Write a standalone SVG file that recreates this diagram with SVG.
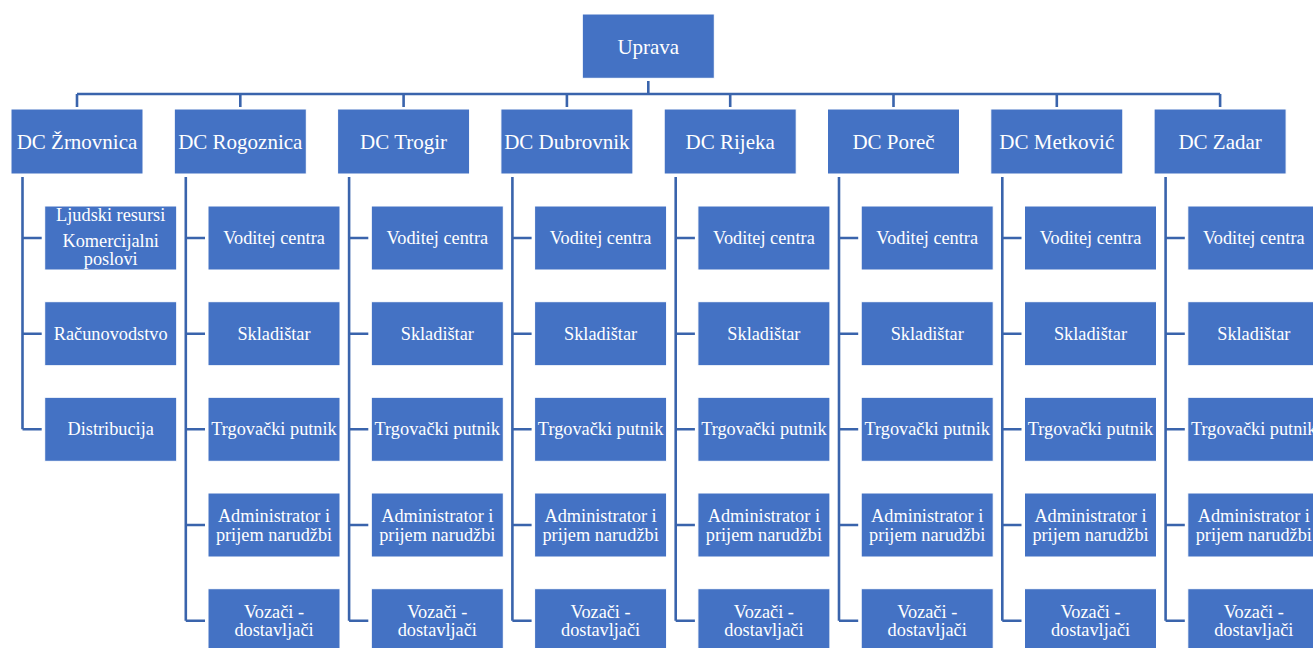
<svg xmlns="http://www.w3.org/2000/svg" width="1313" height="648" viewBox="0 0 1313 648" font-family="'Liberation Serif', 'DejaVu Serif', serif">
<defs>
<style>
.box{fill:#4472C4;stroke:#ffffff;stroke-width:1}
.t{font-family:'Liberation Serif','DejaVu Serif',serif;fill:#ffffff;text-anchor:middle}
.big{font-size:21px}
.sm{font-size:18.3px}
.ln{fill:none;stroke:#3A64AC;stroke-width:2.6}
</style>
</defs>
<rect width="1313" height="648" fill="#ffffff"/>
<g id="connectors">
<path class="ln" d="M648.3,81 V94 M77,94 H1220.1"/>
<path class="ln" d="M77,94 V107 M240.3,94 V107 M403.6,94 V107 M566.9,94 V107 M730.2,94 V107 M893.5,94 V107 M1056.8,94 V107 M1220.1,94 V107"/>
<path class="ln" d="M22.5,177 V429.3 M22.5,238 H41.7 M22.5,333.7 H41.7 M22.5,429.3 H41.7"/>
<path class="ln" d="M185.8,177 V620.7 M185.8,238 H205 M185.8,333.7 H205 M185.8,429.3 H205 M185.8,525 H205 M185.8,620.7 H205"/>
<path class="ln" d="M349.1,177 V620.7 M349.1,238 H368.3 M349.1,333.7 H368.3 M349.1,429.3 H368.3 M349.1,525 H368.3 M349.1,620.7 H368.3"/>
<path class="ln" d="M512.4,177 V620.7 M512.4,238 H531.6 M512.4,333.7 H531.6 M512.4,429.3 H531.6 M512.4,525 H531.6 M512.4,620.7 H531.6"/>
<path class="ln" d="M675.7,177 V620.7 M675.7,238 H694.9 M675.7,333.7 H694.9 M675.7,429.3 H694.9 M675.7,525 H694.9 M675.7,620.7 H694.9"/>
<path class="ln" d="M839,177 V620.7 M839,238 H858.2 M839,333.7 H858.2 M839,429.3 H858.2 M839,525 H858.2 M839,620.7 H858.2"/>
<path class="ln" d="M1002.3,177 V620.7 M1002.3,238 H1021.5 M1002.3,333.7 H1021.5 M1002.3,429.3 H1021.5 M1002.3,525 H1021.5 M1002.3,620.7 H1021.5"/>
<path class="ln" d="M1165.6,177 V620.7 M1165.6,238 H1184.8 M1165.6,333.7 H1184.8 M1165.6,429.3 H1184.8 M1165.6,525 H1184.8 M1165.6,620.7 H1184.8"/>
</g>
<g id="uprava"><rect class="box" x="582.3" y="14" width="132" height="64.3"/><text class="t big" x="648.3" y="53.5">Uprava</text></g>

<g id="dc-zrnovnica"><rect class="box" x="11" y="109" width="132" height="65"/><text class="t big" x="77" y="148.7">DC Žrnovnica</text></g>
<g id="dc-rogoznica"><rect class="box" x="174.3" y="109" width="132" height="65"/><text class="t big" x="240.3" y="148.7">DC Rogoznica</text></g>
<g id="dc-trogir"><rect class="box" x="337.6" y="109" width="132" height="65"/><text class="t big" x="403.6" y="148.7">DC Trogir</text></g>
<g id="dc-dubrovnik"><rect class="box" x="500.9" y="109" width="132" height="65"/><text class="t big" x="566.9" y="148.7">DC Dubrovnik</text></g>
<g id="dc-rijeka"><rect class="box" x="664.2" y="109" width="132" height="65"/><text class="t big" x="730.2" y="148.7">DC Rijeka</text></g>
<g id="dc-porec"><rect class="box" x="827.5" y="109" width="132" height="65"/><text class="t big" x="893.5" y="148.7">DC Poreč</text></g>
<g id="dc-metkovic"><rect class="box" x="990.8" y="109" width="132" height="65"/><text class="t big" x="1056.8" y="148.7">DC Metković</text></g>
<g id="dc-zadar"><rect class="box" x="1154.1" y="109" width="132" height="65"/><text class="t big" x="1220.1" y="148.7">DC Zadar</text></g>

<g id="zrnovnica-ljudski"><rect class="box" x="44.7" y="206" width="132" height="64"/><text class="t sm" x="110.7" y="220.7">Ljudski resursi</text><text class="t sm" x="110.7" y="247.3">Komercijalni</text><text class="t sm" x="110.7" y="265.3">poslovi</text></g>
<g id="zrnovnica-racunovodstvo"><rect class="box" x="44.7" y="301.7" width="132" height="64"/><text class="t sm" x="110.7" y="339.8">Računovodstvo</text></g>
<g id="zrnovnica-distribucija"><rect class="box" x="44.7" y="397.3" width="132" height="64"/><text class="t sm" x="110.7" y="435.4">Distribucija</text></g>

<g id="rogoznica-voditej"><rect class="box" x="208" y="206" width="132" height="64"/><text class="t sm" x="274" y="244.1">Voditej centra</text></g>
<g id="rogoznica-skladistar"><rect class="box" x="208" y="301.7" width="132" height="64"/><text class="t sm" x="274" y="339.8">Skladištar</text></g>
<g id="rogoznica-putnik"><rect class="box" x="208" y="397.3" width="132" height="64"/><text class="t sm" x="274" y="435.4">Trgovački putnik</text></g>
<g id="rogoznica-admin"><rect class="box" x="208" y="493" width="132" height="64"/><text class="t sm" x="274" y="522">Administrator i</text><text class="t sm" x="274" y="540.5">prijem narudžbi</text></g>
<g id="rogoznica-vozaci"><rect class="box" x="208" y="588.7" width="132" height="64"/><text class="t sm" x="274" y="617.8">Vozači -</text><text class="t sm" x="274" y="636.4">dostavljači</text></g>

<g id="trogir-voditej"><rect class="box" x="371.3" y="206" width="132" height="64"/><text class="t sm" x="437.3" y="244.1">Voditej centra</text></g>
<g id="trogir-skladistar"><rect class="box" x="371.3" y="301.7" width="132" height="64"/><text class="t sm" x="437.3" y="339.8">Skladištar</text></g>
<g id="trogir-putnik"><rect class="box" x="371.3" y="397.3" width="132" height="64"/><text class="t sm" x="437.3" y="435.4">Trgovački putnik</text></g>
<g id="trogir-admin"><rect class="box" x="371.3" y="493" width="132" height="64"/><text class="t sm" x="437.3" y="522">Administrator i</text><text class="t sm" x="437.3" y="540.5">prijem narudžbi</text></g>
<g id="trogir-vozaci"><rect class="box" x="371.3" y="588.7" width="132" height="64"/><text class="t sm" x="437.3" y="617.8">Vozači -</text><text class="t sm" x="437.3" y="636.4">dostavljači</text></g>

<g id="dubrovnik-voditej"><rect class="box" x="534.6" y="206" width="132" height="64"/><text class="t sm" x="600.6" y="244.1">Voditej centra</text></g>
<g id="dubrovnik-skladistar"><rect class="box" x="534.6" y="301.7" width="132" height="64"/><text class="t sm" x="600.6" y="339.8">Skladištar</text></g>
<g id="dubrovnik-putnik"><rect class="box" x="534.6" y="397.3" width="132" height="64"/><text class="t sm" x="600.6" y="435.4">Trgovački putnik</text></g>
<g id="dubrovnik-admin"><rect class="box" x="534.6" y="493" width="132" height="64"/><text class="t sm" x="600.6" y="522">Administrator i</text><text class="t sm" x="600.6" y="540.5">prijem narudžbi</text></g>
<g id="dubrovnik-vozaci"><rect class="box" x="534.6" y="588.7" width="132" height="64"/><text class="t sm" x="600.6" y="617.8">Vozači -</text><text class="t sm" x="600.6" y="636.4">dostavljači</text></g>

<g id="rijeka-voditej"><rect class="box" x="697.9" y="206" width="132" height="64"/><text class="t sm" x="763.9" y="244.1">Voditej centra</text></g>
<g id="rijeka-skladistar"><rect class="box" x="697.9" y="301.7" width="132" height="64"/><text class="t sm" x="763.9" y="339.8">Skladištar</text></g>
<g id="rijeka-putnik"><rect class="box" x="697.9" y="397.3" width="132" height="64"/><text class="t sm" x="763.9" y="435.4">Trgovački putnik</text></g>
<g id="rijeka-admin"><rect class="box" x="697.9" y="493" width="132" height="64"/><text class="t sm" x="763.9" y="522">Administrator i</text><text class="t sm" x="763.9" y="540.5">prijem narudžbi</text></g>
<g id="rijeka-vozaci"><rect class="box" x="697.9" y="588.7" width="132" height="64"/><text class="t sm" x="763.9" y="617.8">Vozači -</text><text class="t sm" x="763.9" y="636.4">dostavljači</text></g>

<g id="porec-voditej"><rect class="box" x="861.2" y="206" width="132" height="64"/><text class="t sm" x="927.2" y="244.1">Voditej centra</text></g>
<g id="porec-skladistar"><rect class="box" x="861.2" y="301.7" width="132" height="64"/><text class="t sm" x="927.2" y="339.8">Skladištar</text></g>
<g id="porec-putnik"><rect class="box" x="861.2" y="397.3" width="132" height="64"/><text class="t sm" x="927.2" y="435.4">Trgovački putnik</text></g>
<g id="porec-admin"><rect class="box" x="861.2" y="493" width="132" height="64"/><text class="t sm" x="927.2" y="522">Administrator i</text><text class="t sm" x="927.2" y="540.5">prijem narudžbi</text></g>
<g id="porec-vozaci"><rect class="box" x="861.2" y="588.7" width="132" height="64"/><text class="t sm" x="927.2" y="617.8">Vozači -</text><text class="t sm" x="927.2" y="636.4">dostavljači</text></g>

<g id="metkovic-voditej"><rect class="box" x="1024.5" y="206" width="132" height="64"/><text class="t sm" x="1090.5" y="244.1">Voditej centra</text></g>
<g id="metkovic-skladistar"><rect class="box" x="1024.5" y="301.7" width="132" height="64"/><text class="t sm" x="1090.5" y="339.8">Skladištar</text></g>
<g id="metkovic-putnik"><rect class="box" x="1024.5" y="397.3" width="132" height="64"/><text class="t sm" x="1090.5" y="435.4">Trgovački putnik</text></g>
<g id="metkovic-admin"><rect class="box" x="1024.5" y="493" width="132" height="64"/><text class="t sm" x="1090.5" y="522">Administrator i</text><text class="t sm" x="1090.5" y="540.5">prijem narudžbi</text></g>
<g id="metkovic-vozaci"><rect class="box" x="1024.5" y="588.7" width="132" height="64"/><text class="t sm" x="1090.5" y="617.8">Vozači -</text><text class="t sm" x="1090.5" y="636.4">dostavljači</text></g>

<g id="zadar-voditej"><rect class="box" x="1187.8" y="206" width="132" height="64"/><text class="t sm" x="1253.8" y="244.1">Voditej centra</text></g>
<g id="zadar-skladistar"><rect class="box" x="1187.8" y="301.7" width="132" height="64"/><text class="t sm" x="1253.8" y="339.8">Skladištar</text></g>
<g id="zadar-putnik"><rect class="box" x="1187.8" y="397.3" width="132" height="64"/><text class="t sm" x="1253.8" y="435.4">Trgovački putnik</text></g>
<g id="zadar-admin"><rect class="box" x="1187.8" y="493" width="132" height="64"/><text class="t sm" x="1253.8" y="522">Administrator i</text><text class="t sm" x="1253.8" y="540.5">prijem narudžbi</text></g>
<g id="zadar-vozaci"><rect class="box" x="1187.8" y="588.7" width="132" height="64"/><text class="t sm" x="1253.8" y="617.8">Vozači -</text><text class="t sm" x="1253.8" y="636.4">dostavljači</text></g>
</svg>
